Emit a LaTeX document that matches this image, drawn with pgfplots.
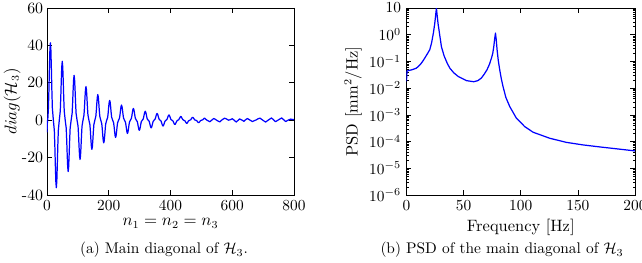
\documentclass[border=0pt]{standalone}
\usepackage{pgfplots}
\pgfplotsset{compat=1.18}
\begin{document}
\begin{tikzpicture}
\pgfplotsset{
  every axis/.append style={
    scale only axis,
    tick label style={font=\fontsize{10.3}{12}\selectfont},
    label style={font=\fontsize{10.7}{13}\selectfont},
    major tick length=3pt,
    minor tick length=1.6pt,
    tick style={black, line width=0.4pt},
    axis line style={line width=0.5pt},
  }
}
% ---------- (a) ----------
\begin{axis}[
  at={(30.55pt,-5.2pt)}, anchor=north west,
  width=160.55pt, height=121.55pt,
  xmin=0, xmax=800, ymin=-40, ymax=60,
  xtick={0,200,400,600,800},
  ytick={-40,-20,0,20,40,60},
  yticklabels={-40,-20,0,20,40,60},
  yticklabel style={xshift=1pt},
  xlabel={$n_1 = n_2 = n_3$},
  ylabel={$diag(\mathcal{H}_3)$},
  xlabel style={yshift=1.5pt},
  ylabel style={yshift=-6pt},
]
\addplot[blue, line width=0.8pt, line join=round] coordinates {
(0,-6.5)(1.4,-1)(3.0,1.5)(4.6,6.4)(6.2,15.8)(7.8,27.6)(9.4,37.5)
(11.0,41.4)(12.6,37.5)(14.2,27.6)(15.8,15.8)(17.4,6.4)(20.6,0)(23.8,-5.6)(25.4,-13.8)(27.0,-24.0)(28.6,-32.7)
(30.2,-36.1)(31.8,-32.7)(33.4,-24.0)(35.0,-13.8)(36.6,-5.6)(39.8,0)(43.0,4.9)(44.6,12.0)(46.2,21.0)(47.8,28.5)
(49.4,31.5)(51.0,28.5)(52.6,21.0)(54.2,12.0)(55.8,4.9)(59.0,0)(62.2,-4.2)(63.8,-10.5)(65.4,-18.3)(67.0,-24.9)
(68.6,-27.5)(70.2,-24.9)(71.8,-18.3)(73.4,-10.5)(75.0,-4.2)(78.2,0)(81.4,3.7)(83.0,9.1)(84.6,16.0)(86.2,21.7)
(87.8,24.0)(89.4,21.7)(91.0,16.0)(92.6,9.1)(94.2,3.7)(97.4,0)(100.6,-3.2)(102.2,-8.0)(103.8,-14.0)(105.4,-19.0)
(107.0,-21.0)(108.6,-19.0)(110.2,-14.0)(111.8,-8.0)(113.4,-3.2)(116.6,0)(119.8,2.8)(121.4,6.9)(123.0,12.0)(124.6,16.3)
(126.2,18.0)(127.8,16.3)(129.4,12.0)(131.0,6.9)(132.6,2.8)(135.8,0)(139.0,-2.4)(140.6,-5.9)(142.2,-10.4)(143.8,-14.1)
(145.4,-15.6)(147.0,-14.1)(148.6,-10.4)(150.2,-5.9)(151.8,-2.4)(155.0,0)(158.2,2.1)(159.8,5.2)(161.4,9.1)(163.0,12.4)
(164.6,13.7)(166.2,12.4)(167.8,9.1)(169.4,5.2)(171.0,2.1)(174.2,0)(177.4,-1.9)(179.0,-4.6)(180.6,-8.1)(182.2,-11.0)
(183.8,-12.1)(185.4,-11.0)(187.0,-8.1)(188.6,-4.6)(190.2,-1.9)(193.4,0)(196.6,1.6)(198.2,4.0)(199.8,7.1)(201.4,9.6)
(203.0,10.6)(204.6,9.6)(206.2,7.1)(207.8,4.0)(209.4,1.6)(212.6,0)(215.8,-1.4)(217.4,-3.5)(219.0,-6.1)(220.6,-8.3)
(222.2,-9.2)(223.8,-8.3)(225.4,-6.1)(227.0,-3.5)(228.6,-1.4)(231.8,0)(235.0,1.2)(236.6,3.1)(238.2,5.4)(239.8,7.3)
(241.4,8.1)(243.0,7.3)(244.6,5.4)(246.2,3.1)(247.8,1.2)(251.0,0)(254.2,-1.1)(255.8,-2.7)(257.4,-4.7)(259.0,-6.4)
(260.6,-7.1)(262.2,-6.4)(263.8,-4.7)(265.4,-2.7)(267.0,-1.1)(270.2,0)(273.4,1.0)(275.0,2.4)(276.6,4.2)(278.2,5.7)
(279.8,6.3)(281.4,5.7)(283.0,4.2)(284.6,2.4)(286.2,1.0)(289.4,0)(292.6,-0.8)(294.2,-2.1)(295.8,-3.6)(297.4,-4.9)
(299.0,-5.4)(300.6,-4.9)(302.2,-3.6)(303.8,-2.1)(305.4,-0.8)(308.6,0)(311.8,0.7)(313.4,1.8)(315.0,3.2)(316.6,4.3)
(318.2,4.8)(319.8,4.3)(321.4,3.2)(323.0,1.8)(324.6,0.7)(327.8,0)(331.0,-0.6)(332.6,-1.6)(334.2,-2.7)(335.8,-3.7)
(337.4,-4.1)(339.0,-3.7)(340.6,-2.7)(342.2,-1.6)(343.8,-0.6)(347.0,0)(350.2,0.6)(351.8,1.4)(353.4,2.4)(355.0,3.3)
(356.6,3.6)(358.2,3.3)(359.8,2.4)(361.4,1.4)(363.0,0.6)(366.2,0)(369.4,-0.5)(371.0,-1.2)(372.6,-2.1)(374.2,-2.8)
(375.8,-3.1)(377.4,-2.8)(379.0,-2.1)(380.6,-1.2)(382.2,-0.5)(385.4,0)(388.6,0.4)(390.2,1.1)(391.8,1.9)(393.4,2.5)
(395.0,2.8)(396.6,2.5)(398.2,1.9)(399.8,1.1)(401.4,0.4)(404.6,0)(407.8,-0.4)(409.4,-0.9)(411.0,-1.5)(412.6,-2.1)
(414.2,-2.3)(415.8,-2.1)(417.4,-1.5)(419.0,-0.9)(420.6,-0.4)(423.8,0)(427.0,0.3)(428.6,0.8)(430.2,1.3)(431.8,1.8)
(433.4,2.0)(435.0,1.8)(436.6,1.3)(438.2,0.8)(439.8,0.3)(443.0,0)(446.2,-0.3)(447.8,-0.6)(449.4,-1.1)(451.0,-1.5)
(452.6,-1.7)(454.2,-1.5)(455.8,-1.1)(457.4,-0.6)(459.0,-0.3)(462.2,0)(465.4,0.2)(467.0,0.6)(468.6,1.0)(470.2,1.4)
(471.8,1.5)(473.4,1.4)(475.0,1.0)(476.6,0.6)(478.2,0.2)(481.4,0)(484.6,-0.2)(486.2,-0.5)(487.8,-0.9)(489.4,-1.2)
(491.0,-1.3)(492.6,-1.2)(494.2,-0.9)(495.8,-0.5)(497.4,-0.2)(500.6,0)(503.8,0.2)(505.4,0.4)(507.0,0.7)(508.6,1.0)
(510.2,1.1)(515,0.4)(520,-0.2)(528,-0.8)(534,0.1)(540,0.9)(546,0.4)(552,-0.3)(560,-0.9)(567,0.2)(575,1.1)
(582,0.6)(588,0.0)(594,0.3)(600,0.8)(607,-0.1)(613,-1.0)(618,-0.2)(624,0.7)(631,0.1)(638,-0.6)(643,0.2)
(649,0.9)(657,0.1)(665,-0.7)(671,-0.3)(678,0.2)(684,0.8)(690,1.1)(699,0.0)(708,-1.0)(717,0.1)(727,1.2)
(734,0.2)(740,-0.8)(750,0.2)(760,1.2)(767,0.2)(773,-0.7)(781,0.0)(789,0.6)(795,0.4)(800,0.3)
};
\end{axis}
% ---------- (b) ----------
\begin{axis}[
  at={(264.2pt,-5.2pt)}, anchor=north west,
  width=148.55pt, height=121.55pt,
  xmin=0, xmax=200, ymode=log, ymin=1e-6, ymax=10,
  xtick={0,50,100,150,200},
  ytick={1e-6,1e-5,1e-4,1e-3,1e-2,1e-1,1,10},
  yticklabels={$10^{-6}$,$10^{-5}$,$10^{-4}$,$10^{-3}$,$10^{-2}$,$10^{-1}$,$10^{0}$,$10$},
  xlabel={Frequency [Hz]},
  ylabel={PSD [mm$^2$/Hz]},
  xlabel style={yshift=1pt},
  ylabel style={yshift=-2pt},
]
\addplot[blue, line width=0.8pt, line join=round] coordinates {
(0,0.0178)(0.5,0.0437)(2,0.0457)(5,0.0490)(8.75,0.0562)(12,0.0759)(14,0.098)(16,0.1334)(18.5,0.1995)
(20.4,0.2754)(22,0.5012)(23.5,1.122)(24.7,2.512)(25.6,5.623)(26.2,10.0)(26.8,5.623)(27.7,2.512)
(28.9,1.122)(30.6,0.3548)(33,0.1585)(35.5,0.0891)(37.9,0.0562)(41.5,0.0372)(45.2,0.0275)(52.5,0.0191)
(58.9,0.0174)(62.5,0.0191)(65.6,0.0240)(68,0.0331)(70.5,0.0490)(72.5,0.0759)(74.4,0.1334)(75.5,0.1995)
(76.4,0.3548)(77.2,0.7079)(77.9,1.148)(78.6,0.6310)(79.3,0.2754)(80.3,0.1122)(81.6,0.0490)(83,0.0224)
(84.5,0.0115)(87,0.00447)(90.4,0.00204)(96.2,0.000750)(103.5,0.000363)(110.8,0.000224)(125.4,0.000133)
(140,0.0000933)(154.5,0.0000750)(169.1,0.0000631)(183.7,0.0000537)(200,0.0000447)
};
\end{axis}
\node[font=\fontsize{10}{12}\selectfont] at (106.6pt,-162.5pt) {(a) Main diagonal of $\mathcal{H}_3$.};
\node[font=\fontsize{10}{12}\selectfont] at (326.3pt,-162.5pt) {(b) PSD of the main diagonal of $\mathcal{H}_3$};
\pgfresetboundingbox
\path[use as bounding box] (0pt,0pt) rectangle (417.3pt,-170.95pt);
\end{tikzpicture}
\end{document}
